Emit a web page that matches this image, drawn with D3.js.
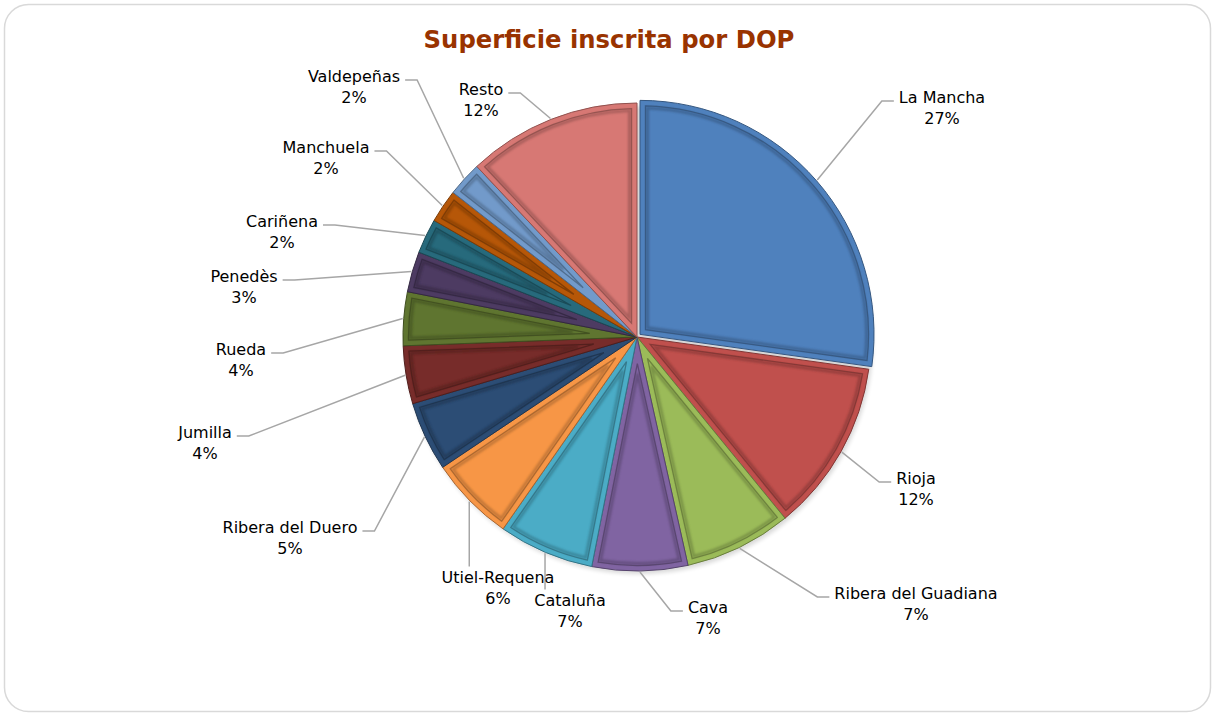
<!DOCTYPE html>
<html>
<head>
<meta charset="utf-8">
<script src="https://cdn.jsdelivr.net/npm/d3@7"></script>
<style>
  html, body { margin: 0; padding: 0; background: #ffffff; }
  svg { display: block; }
  text { font-family: "DejaVu Sans", sans-serif; }
</style>
</head>
<body>
<svg id="chart" width="1215" height="716"></svg>
<script>
// ---------------- DATA ----------------
const title = "Superficie inscrita por DOP";
const categories = ["La Mancha", "Rioja", "Ribera del Guadiana", "Cava", "Cataluña",
  "Utiel-Requena", "Ribera del Duero", "Jumilla", "Rueda", "Penedès", "Cariñena",
  "Manchuela", "Valdepeñas", "Resto"];
const values = [27.2, 11.9, 7.4, 6.6, 6.6, 5.9, 4.8, 4.0, 3.7, 2.8, 2.4, 2.3, 2.4, 12.0];
const colors = ["#4F81BD", "#C0504D", "#9BBB59", "#8064A2", "#4BACC6", "#F79646",
  "#2C4D75", "#772C2A", "#5F7530", "#4D3B62", "#276A7C", "#B65708", "#729ACA", "#D77874"];
// exploded slices (pixels pulled out)
const explode = [4, 0, 0, 0, 0, 0, 0, 0, 0, 0, 0, 0, 0, 0];

// ---------------- LAYOUT (manual label placement, like the source chart) ----------------
const W = 1215, H = 716;
const cx = 637, cy = 337, R = 234;
// label block centre offsets from pie centre
const labelNudge = [[305, -230], [279, 151], [279, 266], [71, 280], [-67, 273], [-139, 250],
  [-347, 200], [-432, 105], [-396, 22], [-393, -51], [-355, -106], [-311, -180],
  [-283, -251], [-156, -238]];

const svg = d3.select("#chart");

// frame
svg.append("rect")
  .attr("x", 4.5).attr("y", 4.5).attr("width", W - 9).attr("height", H - 9)
  .attr("rx", 24).attr("ry", 24)
  .attr("fill", "#ffffff").attr("stroke", "#d9d9d9").attr("stroke-width", 1.5);

// title
svg.append("text")
  .attr("x", 609).attr("y", 48)
  .attr("text-anchor", "middle")
  .attr("font-size", 24.3).attr("font-weight", "bold")
  .attr("fill", "#993300")
  .text(title);

const defs = svg.append("defs");
defs.append("filter").attr("id", "soft").attr("x", "-20%").attr("y", "-20%").attr("width", "140%").attr("height", "140%")
  .append("feGaussianBlur").attr("stdDeviation", 1.2);
defs.append("filter").attr("id", "shadow").attr("x", "-20%").attr("y", "-20%").attr("width", "140%").attr("height", "140%")
  .append("feGaussianBlur").attr("stdDeviation", 2);

const total = d3.sum(values);
const pct = d3.format(".0%");
const pie = d3.pie().sort(null).value(d => d).startAngle(0).endAngle(2 * Math.PI);
const arcs = pie(values);
const arc = d3.arc().innerRadius(0).outerRadius(R);

const g = svg.append("g").attr("transform", `translate(${cx},${cy})`);

function polar(a, r) { return [r * Math.sin(a), -r * Math.cos(a)]; }

// inset wedge path (bevel)
function insetPath(a0, a1, d) {
  const h = (a1 - a0) / 2, m = (a0 + a1) / 2;
  const apex = polar(m, d / Math.sin(Math.min(h, Math.PI / 2)));
  const r2 = R - d;
  const da = Math.asin(d / r2);
  const s = polar(a0 + da, r2);
  const p = d3.path();
  p.moveTo(apex[0], apex[1]);
  p.lineTo(s[0], s[1]);
  p.arc(0, 0, r2, a0 + da - Math.PI / 2, a1 - da - Math.PI / 2, false);
  p.closePath();
  return p.toString();
}

// soft overall shadow
g.append("circle").attr("cx", 2).attr("cy", 3).attr("r", R)
  .attr("fill", "#000").attr("opacity", 0.15).attr("filter", "url(#shadow)");

const slices = g.selectAll("g.slice").data(arcs).join("g")
  .attr("class", "slice")
  .attr("transform", (d, i) => {
    const m = (d.startAngle + d.endAngle) / 2;
    const o = polar(m, explode[i]);
    return `translate(${o[0]},${o[1]})`;
  });

slices.append("path")
  .attr("d", arc)
  .attr("fill", (d, i) => colors[i])
  .attr("stroke", (d, i) => d3.color(colors[i]).darker(1.1))
  .attr("stroke-width", 1)
  .attr("stroke-linejoin", "round");

// bevel: blurred inner shadow edge + crisp ridge
slices.append("path")
  .attr("d", d => insetPath(d.startAngle, d.endAngle, 7.5))
  .attr("fill", "none")
  .attr("stroke", (d, i) => d3.color(colors[i]).darker(1.5))
  .attr("stroke-width", 3)
  .attr("opacity", 0.5)
  .attr("filter", "url(#soft)");
slices.append("path")
  .attr("d", d => insetPath(d.startAngle, d.endAngle, 5.5))
  .attr("fill", "none")
  .attr("stroke", (d, i) => d3.color(colors[i]).darker(1.1))
  .attr("stroke-width", 1.3)
  .attr("opacity", 0.9);

// labels
const lab = svg.append("g");
const lineGap = 21;
arcs.forEach((d, i) => {
  const lx = cx + labelNudge[i][0];
  const lyc = cy + labelNudge[i][1];
  const b1 = lyc - 4.5, b2 = b1 + lineGap;
  const t = lab.append("text").attr("font-size", 16).attr("fill", "#000").attr("text-anchor", "middle");
  const t1 = t.append("tspan").attr("x", lx).attr("y", b1).text(categories[i]);
  const t2 = t.append("tspan").attr("x", lx).attr("y", b2).text(pct(values[i] / total));
  const w = Math.max(t1.node().getComputedTextLength(), t2.node().getComputedTextLength());
  const left = lx - w / 2, right = lx + w / 2, top = b1 - 14, bottom = b2 + 5;

  const m = (d.startAngle + d.endAngle) / 2;
  const o = polar(m, explode[i]);
  const pp = polar(m, R + 1);
  const P = [cx + o[0] + pp[0], cy + o[1] + pp[1]];
  let pts;
  if (P[0] > left + 3 && P[0] < right - 3) {
    pts = [P, [P[0], P[1] < top ? top - 2 : bottom + 2]];
  } else if (left > P[0]) {
    const E = [left - 5, b1 - 1.5];
    pts = [P, [E[0] - 12, E[1]], E];
  } else {
    const E = [right + 5, b1 - 1.5];
    pts = [P, [E[0] + 12, E[1]], E];
  }
  lab.insert("path", "text")
    .attr("d", d3.line()(pts))
    .attr("fill", "none")
    .attr("stroke", "#a6a6a6")
    .attr("stroke-width", 1.5);
});
</script>
</body>
</html>
